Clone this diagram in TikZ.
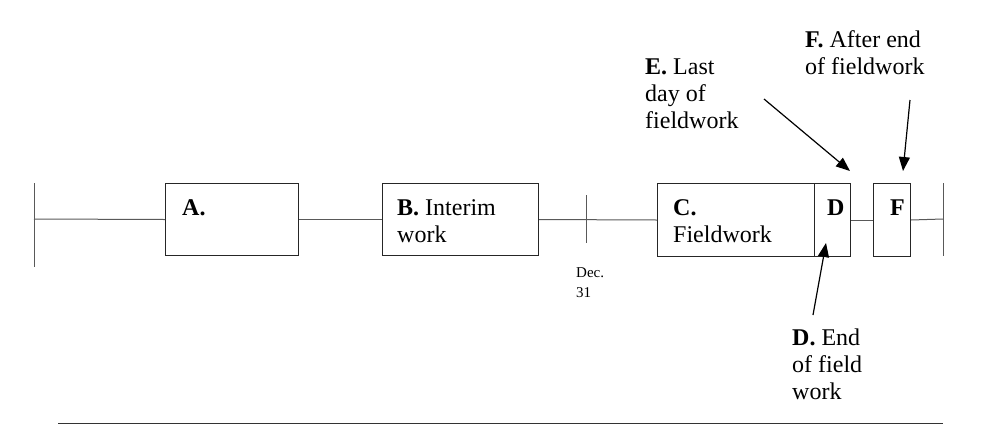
\documentclass[tikz,border=0pt]{standalone}
\usepackage{fontspec}
\setmainfont{Liberation Serif}
\usetikzlibrary{arrows.meta}
\begin{document}
\begin{tikzpicture}[x=1pt,y=-1pt,
  box/.style={draw=black!85,line width=1pt,rectangle,anchor=north west,inner sep=0pt},
  tl/.style={draw=black!65,line width=1pt},
  txt/.style={anchor=base west,inner sep=0pt,font=\fontsize{24}{27}\selectfont,align=left},
  small/.style={anchor=base west,inner sep=0pt,font=\fontsize{15}{19.5}\selectfont,align=left},
  arr/.style={draw=black,line width=1.2pt,-{Triangle[length=14pt,width=11pt]}}]
\useasboundingbox (0,0) rectangle (1005,424);
% boxes
\node[box,minimum width=133pt,minimum height=72pt] (A) at (165,183) {};
\node[box,minimum width=156pt,minimum height=72pt] (B) at (382,183) {};
\node[box,minimum width=157pt,minimum height=73pt] (C) at (657,183) {};
\node[box,minimum width=36pt,minimum height=73pt] (D) at (814,183) {};
\node[box,minimum width=37pt,minimum height=73pt] (F) at (873,183) {};
% timeline
\coordinate (L) at (34,219);
\coordinate (Lt) at (34,183);
\coordinate (Lb) at (34,267);
\coordinate (M) at (586,219);
\coordinate (Mt) at (586,195);
\coordinate (Mb) at (586,243);
\coordinate (R) at (943,219);
\coordinate (Rt) at (943,183);
\coordinate (Rb) at (943,256);
\draw[tl] (Lt) -- (Lb);
\draw[tl] (Mt) -- (Mb);
\draw[tl] (Rt) -- (Rb);
\draw[tl] (L) -- (A.west);
\draw[tl] (A.east) -- (B.west);
\draw[tl] (B.east) -- (C.west);
\draw[tl] (D.east) -- (F.west);
\draw[tl] (F.east) -- (R);
% texts in boxes (base = last line baseline)
\node[txt] (tA) at (182,215) {\textbf{A.}};
\node[txt] (tB) at (397,242) {\textbf{B.} Interim\\work};
\node[txt] (tC) at (673,242) {\textbf{C.}\\Fieldwork};
\node[txt] (tD) at (827,215) {\textbf{D}};
\node[txt] (tF) at (890,215) {\textbf{F}};
\node[small] (dec) at (576,297) {Dec.\\31};
% callouts
\node[txt] (lE) at (645,128) {\textbf{E.} Last\\day of\\fieldwork};
\node[txt] (lF) at (805,74) {\textbf{F.} After end\\of fieldwork};
\node[txt] (lD) at (792,399) {\textbf{D.} End\\of field\\work};
\coordinate (Es) at (764,99);
\coordinate (Ee) at (850,171);
\coordinate (Fs) at (910,100);
\coordinate (Fe) at (903,171);
\coordinate (Ds) at (813,315);
\coordinate (De) at (826,243);
\draw[arr] (Es) -- (Ee);
\draw[arr] (Fs) -- (Fe);
\draw[arr] (Ds) -- (De);
% bottom rule
\coordinate (BL) at (58,423);
\coordinate (BR) at (943,423);
\draw[draw=black!80,line width=1pt] (BL) -- (BR);
\end{tikzpicture}
\end{document}
